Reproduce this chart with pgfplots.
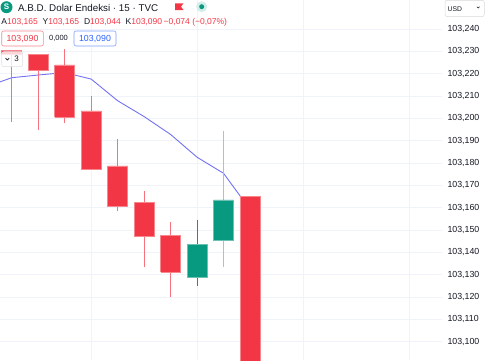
\documentclass[border=0pt]{standalone}
\usepackage{pgfplots}
\pgfplotsset{compat=1.18}
\usepackage{fontspec}
\setmainfont{Liberation Sans}
\definecolor{tvred}{HTML}{F23645}
\definecolor{tvredl}{HTML}{F7868D}
\definecolor{tvgreen}{HTML}{089981}
\definecolor{tvtext}{HTML}{131722}
\definecolor{tvgrid}{HTML}{F0F3FA}
\definecolor{tvma}{HTML}{7272F2}
\definecolor{tvblue}{HTML}{2962FF}
\begin{document}
\begin{tikzpicture}[x=1pt,y=1pt]
\useasboundingbox (0,0) rectangle (485,360);
\begin{axis}[at={(0,0)}, anchor=south west, scale only axis,
  width=442pt, height=360pt,
  xmin=0.558, xmax=17.25, ymin=103.0918, ymax=103.253,
  axis line style={draw=none}, tick style={draw=none},
  xtick={4,8,12,16}, xticklabels={}, xmajorgrids, ymajorgrids,
  ytick={103.10,103.11,103.12,103.13,103.14,103.15,103.16,103.17,103.18,103.19,103.20,103.21,103.22,103.23,103.24},
  yticklabel pos=right,
  yticklabel style={anchor=west, xshift=2pt, text=tvtext, font=\fontsize{8.8}{10}\selectfont,
    /pgf/number format/.cd, fixed, fixed zerofill, precision=3, use comma, 1000 sep={}, assume math mode=true},
  grid style={tvgrid, line width=0.6pt},
  clip=true]
% moving average
\addplot[tvma, line width=0.9pt] coordinates {
 (0,103.2140) (1,103.2182) (2,103.2194) (3,103.2205) (4,103.2176) (5,103.2079)
 (6,103.2008) (7,103.1928) (8,103.1826) (9,103.1754) (10,103.1592)};
% wicks
\addplot[tvred!70!white, line width=0.8pt] coordinates {(1,103.1985) (1,103.2306)};
\addplot[tvred!70!white, line width=0.8pt] coordinates {(2,103.1948) (2,103.2288)};
\addplot[tvred!70!white, line width=0.8pt] coordinates {(3,103.1978) (3,103.2310)};
\addplot[tvred!70!white, line width=0.8pt] coordinates {(4,103.1773) (4,103.2100)};
\addplot[tvred!70!white, line width=0.8pt] coordinates {(5,103.1585) (5,103.1906)};
\addplot[tvred!70!white, line width=0.8pt] coordinates {(6,103.1333) (6,103.1675)};
\addplot[tvred!70!white, line width=0.8pt] coordinates {(7,103.1202) (7,103.1537)};
\addplot[tvgreen, line width=0.8pt] coordinates {(8,103.1251) (8,103.1545)};
\addplot[tvgreen!45!white, line width=0.8pt] coordinates {(9,103.1336) (9,103.1945)};
\addplot[tvred!70!white, line width=0.8pt] coordinates {(10,103.044) (10,103.165)};
% bodies
\addplot[fill=tvred, draw=tvredl, line width=0.5pt] coordinates {(0.622,103.2288) (1.378,103.2288) (1.378,103.2306) (0.622,103.2306) (0.622,103.2288)};
\addplot[fill=tvred, draw=tvredl, line width=0.5pt] coordinates {(1.622,103.2216) (2.378,103.2216) (2.378,103.2288) (1.622,103.2288) (1.622,103.2216)};
\addplot[fill=tvred, draw=tvredl, line width=0.5pt] coordinates {(2.622,103.2005) (3.378,103.2005) (3.378,103.2239) (2.622,103.2239) (2.622,103.2005)};
\addplot[fill=tvred, draw=tvredl, line width=0.5pt] coordinates {(3.622,103.1773) (4.378,103.1773) (4.378,103.2034) (3.622,103.2034) (3.622,103.1773)};
\addplot[fill=tvred, draw=tvredl, line width=0.5pt] coordinates {(4.622,103.1605) (5.378,103.1605) (5.378,103.1787) (4.622,103.1787) (4.622,103.1605)};
\addplot[fill=tvred, draw=tvredl, line width=0.5pt] coordinates {(5.622,103.1473) (6.378,103.1473) (6.378,103.1624) (5.622,103.1624) (5.622,103.1473)};
\addplot[fill=tvred, draw=tvredl, line width=0.5pt] coordinates {(6.622,103.1311) (7.378,103.1311) (7.378,103.1475) (6.622,103.1475) (6.622,103.1311)};
\addplot[fill=tvgreen, draw=tvgreen!60!white, line width=0.5pt] coordinates {(7.622,103.1290) (8.378,103.1290) (8.378,103.1436) (7.622,103.1436) (7.622,103.1290)};
\addplot[fill=tvgreen, draw=tvgreen!60!white, line width=0.5pt] coordinates {(8.622,103.1452) (9.378,103.1452) (9.378,103.1635) (8.622,103.1635) (8.622,103.1452)};
\addplot[fill=tvred, draw=tvredl, line width=0.5pt] coordinates {(9.622,103.090) (10.378,103.090) (10.378,103.165) (9.622,103.165) (9.622,103.090)};
\end{axis}
% header
\fill[tvgreen] (6.5,352.8) circle (6);
\node[white, inner sep=0, font=\bfseries\fontsize{8}{8}\selectfont] at (6.5,352.8) {S};
\node[anchor=base west, inner sep=0, text=tvtext, font=\fontsize{9.8}{12}\selectfont] at (18,349) {A.B.D. Dolar Endeksi · 15 · TVC};
\fill[tvred] (175,356.7) -- (183.5,356.7) -- (181,353.3) -- (183.5,350) -- (175,350) -- cycle;
\fill[tvgreen!18!white] (201.7,353.3) circle (5.5);
\fill[tvgreen] (201.7,353.3) circle (2.5);
\begin{scope}[every node/.style={anchor=base west, inner sep=0, font=\fontsize{8.5}{10}\selectfont}]
\node at (1.2,336) {\textcolor{tvtext}{A}\textcolor{tvred}{103,165}};
\node at (42.5,336) {\textcolor{tvtext}{Y}\textcolor{tvred}{103,165}};
\node at (83.8,336) {\textcolor{tvtext}{D}\textcolor{tvred}{103,044}};
\node at (125.5,336) {\textcolor{tvtext}{K}\textcolor{tvred}{103,090}};
\node at (163.5,336) {\textcolor{tvred}{−0,074 (−0,07\%)}};
\end{scope}
% legend boxes
\draw[tvredl, fill=white, rounded corners=2pt, line width=0.6pt] (1.7,314) rectangle (43.3,329);
\node[text=tvred, inner sep=0, font=\fontsize{8.8}{10}\selectfont] at (22.5,321.5) {103,090};
\node[text=tvtext, inner sep=0, font=\fontsize{7.5}{9}\selectfont] at (58.5,322) {0,000};
\draw[tvblue!60!white, fill=white, rounded corners=2pt, line width=0.6pt] (74,314) rectangle (116,329);
\node[text=tvblue, inner sep=0, font=\fontsize{8.8}{10}\selectfont] at (95,321.5) {103,090};
\draw[gray!25, fill=white, fill opacity=0.8, rounded corners=2pt, line width=0.5pt] (1.7,293.3) rectangle (22.7,308.3);
\draw[tvtext, line width=0.7pt] (5.5,301.8) -- (7.3,300) -- (9.1,301.8);
\node[text=tvtext, inner sep=0, font=\fontsize{8}{9}\selectfont] at (16.5,300.8) {3};
% currency box
\draw[gray!30, fill=white, rounded corners=2pt, line width=0.5pt] (445,343.5) rectangle (484.3,359.7);
\node[anchor=base west, inner sep=0, text=tvtext, font=\fontsize{6.8}{8}\selectfont] at (447.5,348.5) {USD};
\draw[tvtext, line width=0.5pt] (477,353.3) -- (478.3,352) -- (479.6,353.3);
\end{tikzpicture}
\end{document}
